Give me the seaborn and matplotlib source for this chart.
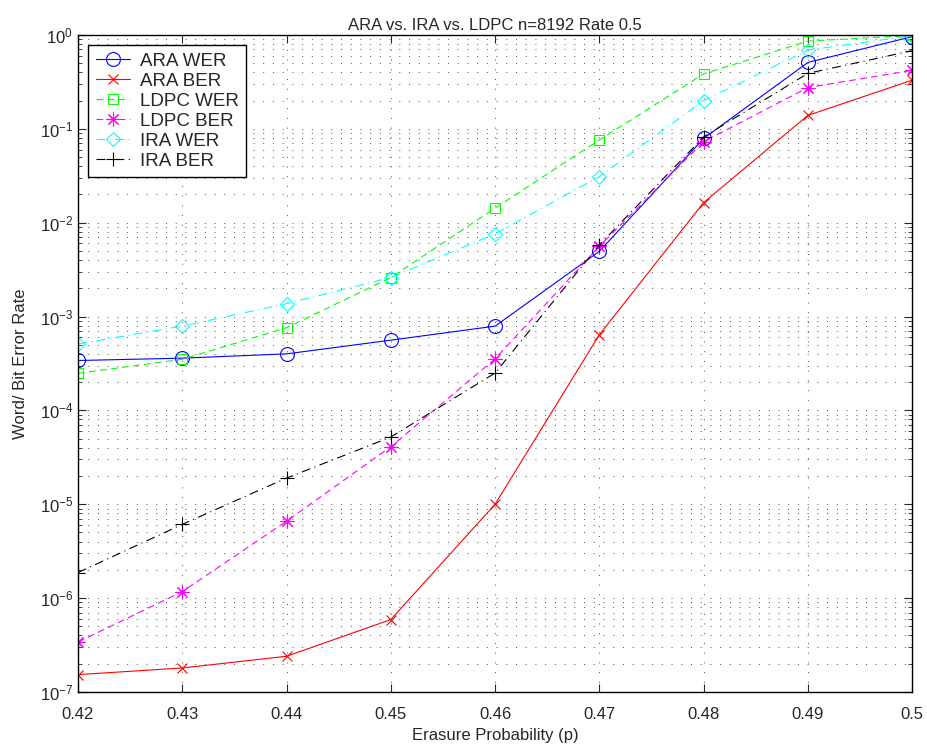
import numpy as np
import pandas as pd
import matplotlib
matplotlib.use("Agg")
import matplotlib.pyplot as plt
import seaborn as sns
from matplotlib.ticker import LogLocator, FixedLocator, NullFormatter

# erasure probability
p = [0.42, 0.43, 0.44, 0.45, 0.46, 0.47, 0.48, 0.49, 0.50]

ara_wer = [3.4e-4, 3.6e-4, 4.0e-4, 5.6e-4, 7.9e-4, 4.95e-3, 0.079, 0.51, 0.96]
ara_ber = [1.53e-7, 1.8e-7, 2.4e-7, 5.9e-7, 1.0e-5, 6.4e-4, 0.0164, 0.139, 0.33]
ldpc_wer = [2.48e-4, 3.5e-4, 7.6e-4, 2.6e-3, 0.0143, 0.076, 0.385, 0.86, 0.99]
ldpc_ber = [3.4e-7, 1.17e-6, 6.6e-6, 4.1e-5, 3.55e-4, 5.6e-3, 0.073, 0.275, 0.42]
ira_wer = [5.1e-4, 7.9e-4, 1.37e-3, 2.6e-3, 7.6e-3, 0.031, 0.20, 0.69, 0.98]
ira_ber = [1.87e-6, 6.1e-6, 1.9e-5, 5.2e-5, 2.5e-4, 5.8e-3, 0.082, 0.39, 0.68]

x_ticks = [0.42, 0.43, 0.44, 0.45, 0.46, 0.47, 0.48, 0.49, 0.5]
x_labels = ["0.42", "0.43", "0.44", "0.45", "0.46", "0.47", "0.48", "0.49", "0.5"]

sns.set_style("ticks")
plt.rcParams["font.family"] = ["Liberation Sans", "DejaVu Sans"]

fig = plt.figure(figsize=(9.28, 7.47), dpi=100)
ax = fig.add_axes([0.084, 0.0737, 0.899, 0.8795])

dash = (0, (6, 4))
dashdot = (0, (8, 4, 1, 4))

series = [
    ("ARA WER", ara_wer, "#0000ff", "-", "o", 10),
    ("ARA BER", ara_ber, "#ff0000", "-", "x", 7),
    ("LDPC WER", ldpc_wer, "#00ff00", dash, "s", 7.5),
    ("LDPC BER", ldpc_ber, "#ff00ff", dash, (8, 2, 0), 10),
    ("IRA WER", ira_wer, "#00ffff", dashdot, "D", 7.5),
    ("IRA BER", ira_ber, "#000000", dashdot, "+", 10),
]

for name, vals, col, ls, mk, ms in series:
    df = pd.DataFrame({"p": p, "err": vals})
    sns.lineplot(data=df, x="p", y="err", ax=ax, color=col, linestyle=ls,
                 linewidth=0.8, marker=mk, markersize=ms, markerfacecolor="none",
                 markeredgecolor=col, markeredgewidth=0.8, label=name)

ax.set_yscale("log")
ax.set_xlim(0.42, 0.5)
ax.set_ylim(1e-7, 1)
ax.xaxis.set_major_locator(FixedLocator(x_ticks))
ax.set_xticklabels(x_labels)
ax.yaxis.set_major_locator(LogLocator(base=10, numticks=10))
ax.yaxis.set_minor_locator(LogLocator(base=10, subs=np.arange(2, 10), numticks=20))
ax.yaxis.set_minor_formatter(NullFormatter())

grid_ls = (0, (1, 9))
ax.grid(True, which="major", linestyle=grid_ls, color="#505050", linewidth=0.7)
ax.grid(True, which="minor", axis="y", linestyle=grid_ls, color="#505050", linewidth=0.7)

ax.tick_params(which="both", direction="in", top=True, right=True, labelsize=12)
ax.tick_params(which="major", length=6, width=0.8)
ax.tick_params(which="minor", length=3, width=0.6)
ax.tick_params(axis="x", pad=11)
for s in ax.spines.values():
    s.set_visible(True)
    s.set_color("black")
    s.set_linewidth(1.0)

ax.set_title("ARA vs. IRA vs. LDPC n=8192 Rate 0.5", fontsize=12, pad=3.5)
ax.set_xlabel("Erasure Probability (p)", fontsize=12, labelpad=4)
ax.set_ylabel("Word/ Bit Error Rate", fontsize=12, labelpad=8)

leg = ax.legend(loc="upper left", fontsize=13.5, frameon=True, fancybox=False,
                edgecolor="black", framealpha=1, borderaxespad=0.55,
                handlelength=1.8, handletextpad=0.55, labelspacing=0.15,
                borderpad=0.4)
leg.get_frame().set_linewidth(1.0)

fig.savefig("out.png", dpi=100)
